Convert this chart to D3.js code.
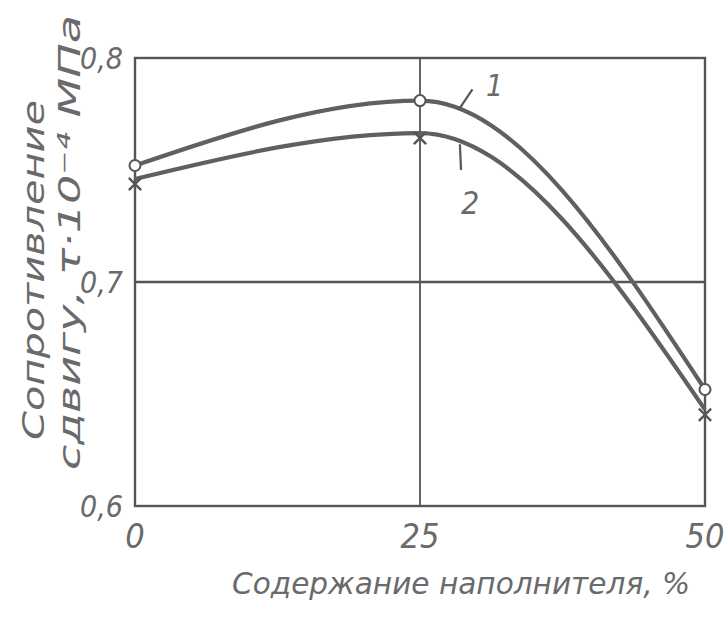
<!DOCTYPE html>
<html>
<head>
<meta charset="utf-8">
<script src="https://cdn.jsdelivr.net/npm/d3@7"></script>
<style>
  body { margin: 0; background: #fff; }
  text { font-family: "DejaVu Sans Condensed", "DejaVu Sans", sans-serif; font-style: italic; fill: #6a6a6a; }
</style>
</head>
<body>
<div id="chart"></div>
<script>
// filler content, %
const fillerContent = [0, 25, 50];
// shear strength, curve 1 (circles) and curve 2 (crosses)
const curve1 = [0.752, 0.781, 0.652];
const curve2 = [0.746, 0.7665, 0.643];
const xTicks = [0, 25, 50];
const yTicks = [0.6, 0.7, 0.8];
const yTickLabels = ['0,6', '0,7', '0,8'];
const xTitle = 'Содержание  наполнителя, %';
const yTitle1 = 'Сопротивление';
const yTitle2 = 'сдвигу, τ·10⁻⁴ МПа';

const width = 726, height = 617;
const margin = { top: 58, right: 21, bottom: 111, left: 135 };
const ink = '#555';

const svg = d3.select('#chart').append('svg')
  .attr('width', width)
  .attr('height', height);

const x = d3.scaleLinear().domain([0, 50]).range([margin.left, width - margin.right]);
const y = d3.scaleLinear().domain([0.6, 0.8]).range([height - margin.bottom, margin.top]);

// frame
svg.append('rect')
  .attr('x', x(0)).attr('y', y(0.8))
  .attr('width', x(50) - x(0)).attr('height', y(0.6) - y(0.8))
  .attr('fill', 'none').attr('stroke', ink).attr('stroke-width', 2.4);

// inner grid lines
svg.append('line')
  .attr('x1', x(0)).attr('x2', x(50)).attr('y1', y(0.7)).attr('y2', y(0.7))
  .attr('stroke', ink).attr('stroke-width', 2.4);
svg.append('line')
  .attr('x1', x(25)).attr('x2', x(25)).attr('y1', y(0.8)).attr('y2', y(0.6))
  .attr('stroke', ink).attr('stroke-width', 1.8);

// tick labels
svg.selectAll('.yt').data(yTicks).enter().append('text')
  .attr('x', x(0) - 12).attr('y', d => y(d) + 11)
  .attr('text-anchor', 'end').attr('font-size', 30)
  .text((d, i) => yTickLabels[i]);
svg.selectAll('.xt').data(xTicks).enter().append('text')
  .attr('x', d => x(d)).attr('y', y(0.6) + 42)
  .attr('text-anchor', 'middle').attr('font-size', 34)
  .text(d => d);

// axis titles
svg.append('text')
  .attr('x', 232).attr('y', 594)
  .attr('font-size', 31)
  .attr('textLength', 458).attr('lengthAdjust', 'spacingAndGlyphs')
  .text(xTitle);
svg.append('text')
  .attr('transform', 'translate(44,440) rotate(-90)')
  .attr('font-size', 31)
  .attr('textLength', 340).attr('lengthAdjust', 'spacingAndGlyphs')
  .text(yTitle1);
svg.append('text')
  .attr('transform', 'translate(80,470) rotate(-90)')
  .attr('font-size', 31)
  .attr('textLength', 455).attr('lengthAdjust', 'spacingAndGlyphs')
  .text(yTitle2);

// curves
const line = d3.line()
  .x((d, i) => x(fillerContent[i]))
  .y(d => y(d))
  .curve(d3.curveMonotoneX);

[curve1, curve2].forEach(s => {
  svg.append('path')
    .attr('d', line(s))
    .attr('fill', 'none').attr('stroke', '#606060').attr('stroke-width', 4.2);
});

// markers
svg.selectAll('.m1').data(curve1).enter().append('circle')
  .attr('cx', (d, i) => x(fillerContent[i])).attr('cy', d => y(d))
  .attr('r', 5.5).attr('fill', '#fff').attr('stroke', ink).attr('stroke-width', 2);
svg.selectAll('.m2').data(curve2).enter().append('path')
  .attr('transform', (d, i) => `translate(${x(fillerContent[i])},${y(d) + 5})`)
  .attr('d', d3.symbol(d3.symbolX, 100)())
  .attr('fill', 'none').attr('stroke', ink).attr('stroke-width', 2.4);

// curve labels with leaders
svg.append('line')
  .attr('x1', x(28.4)).attr('y1', y(0.777)).attr('x2', x(29.6)).attr('y2', y(0.786))
  .attr('stroke', ink).attr('stroke-width', 2.2);
svg.append('text').attr('x', 486).attr('y', 96).attr('font-size', 30).text('1');
svg.append('line')
  .attr('x1', x(28.5)).attr('y1', y(0.7615)).attr('x2', x(28.6)).attr('y2', y(0.750))
  .attr('stroke', ink).attr('stroke-width', 2.2);
svg.append('text').attr('x', 461).attr('y', 214).attr('font-size', 32).text('2');
</script>
</body>
</html>
